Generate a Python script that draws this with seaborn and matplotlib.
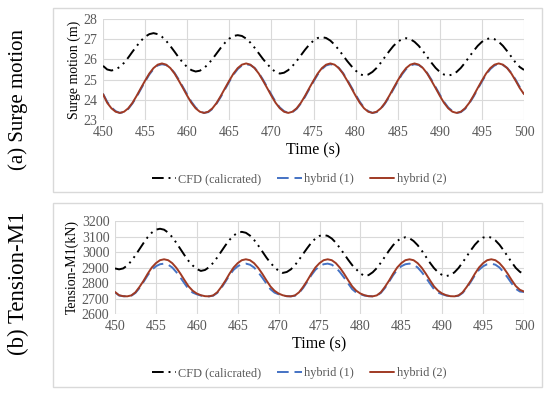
import numpy as np
import pandas as pd
import seaborn as sns
import matplotlib
matplotlib.use("Agg")
import matplotlib.pyplot as plt
from matplotlib.patches import Rectangle

time_s = np.arange(450, 500.01, 0.5)

surge_cfd = [25.68, 25.50, 25.45, 25.50, 25.63, 25.83, 26.09, 26.38, 26.66, 26.92,
             27.12, 27.25, 27.30, 27.25, 27.12, 26.92, 26.66, 26.38, 26.09, 25.83,
             25.62, 25.47, 25.40, 25.44, 25.57, 25.77, 26.02, 26.30, 26.58, 26.83,
             27.03, 27.16, 27.20, 27.16, 27.03, 26.83, 26.58, 26.30, 26.02, 25.77,
             25.55, 25.37, 25.30, 25.34, 25.47, 25.67, 25.92, 26.20, 26.48, 26.73,
             26.93, 27.06, 27.10, 27.06, 26.93, 26.73, 26.48, 26.20, 25.92, 25.67,
             25.45, 25.27, 25.20, 25.25, 25.38, 25.58, 25.84, 26.13, 26.41, 26.67,
             26.87, 27.00, 27.05, 27.00, 26.87, 26.67, 26.41, 26.13, 25.84, 25.58,
             25.38, 25.25, 25.20, 25.25, 25.38, 25.58, 25.84, 26.13, 26.41, 26.67,
             26.87, 27.00, 27.05, 27.00, 26.87, 26.67, 26.41, 26.13, 25.84, 25.62,
             25.48]
surge_h1 = [24.30, 23.90, 23.62, 23.44, 23.35, 23.39, 23.55, 23.82, 24.15, 24.53,
            24.90, 25.25, 25.52, 25.70, 25.76, 25.72, 25.58, 25.33, 25.00, 24.63,
            24.26, 23.90, 23.62, 23.44, 23.35, 23.39, 23.55, 23.82, 24.15, 24.53,
            24.90, 25.25, 25.52, 25.70, 25.76, 25.72, 25.58, 25.33, 25.00, 24.63,
            24.26, 23.90, 23.62, 23.44, 23.35, 23.39, 23.55, 23.82, 24.15, 24.53,
            24.90, 25.25, 25.52, 25.70, 25.76, 25.72, 25.58, 25.33, 25.00, 24.63,
            24.26, 23.90, 23.62, 23.44, 23.35, 23.39, 23.55, 23.82, 24.15, 24.53,
            24.90, 25.25, 25.52, 25.70, 25.76, 25.72, 25.58, 25.33, 25.00, 24.63,
            24.26, 23.90, 23.62, 23.44, 23.35, 23.39, 23.55, 23.82, 24.15, 24.53,
            24.90, 25.25, 25.52, 25.70, 25.76, 25.72, 25.58, 25.33, 25.00, 24.63,
            24.30]
surge_h2 = [24.28, 23.85, 23.58, 23.41, 23.35, 23.41, 23.58, 23.85, 24.20, 24.58,
            24.95, 25.30, 25.57, 25.74, 25.80, 25.74, 25.57, 25.30, 24.95, 24.58,
            24.20, 23.85, 23.58, 23.41, 23.35, 23.41, 23.58, 23.85, 24.20, 24.58,
            24.95, 25.30, 25.57, 25.74, 25.80, 25.74, 25.57, 25.30, 24.95, 24.58,
            24.20, 23.85, 23.58, 23.41, 23.35, 23.41, 23.58, 23.85, 24.20, 24.58,
            24.95, 25.30, 25.57, 25.74, 25.80, 25.74, 25.57, 25.30, 24.95, 24.58,
            24.20, 23.85, 23.58, 23.41, 23.35, 23.41, 23.58, 23.85, 24.20, 24.58,
            24.95, 25.30, 25.57, 25.74, 25.80, 25.74, 25.57, 25.30, 24.95, 24.58,
            24.20, 23.85, 23.58, 23.41, 23.35, 23.41, 23.58, 23.85, 24.20, 24.58,
            24.95, 25.30, 25.57, 25.74, 25.80, 25.74, 25.57, 25.30, 24.95, 24.58,
            24.28]

tension_cfd = [2894, 2888, 2894, 2913, 2942, 2979, 3019, 3059, 3096, 3125,
               3144, 3150, 3144, 3125, 3096, 3059, 3019, 2979, 2942, 2913,
               2890, 2878, 2884, 2902, 2930, 2965, 3004, 3043, 3078, 3106,
               3124, 3130, 3124, 3106, 3078, 3043, 3004, 2965, 2930, 2902,
               2878, 2865, 2871, 2888, 2915, 2950, 2988, 3025, 3060, 3087,
               3104, 3110, 3104, 3087, 3060, 3025, 2988, 2950, 2915, 2888,
               2862, 2845, 2851, 2869, 2896, 2931, 2970, 3009, 3044, 3071,
               3089, 3095, 3089, 3071, 3044, 3009, 2970, 2931, 2896, 2869,
               2851, 2845, 2851, 2869, 2897, 2933, 2972, 3011, 3047, 3075,
               3093, 3099, 3093, 3075, 3047, 3011, 2972, 2933, 2897, 2872,
               2858]
tension_h1 = [2740, 2719, 2715, 2714, 2718, 2736, 2768, 2808, 2850, 2885,
              2908, 2921, 2925, 2918, 2900, 2870, 2835, 2797, 2760, 2738,
              2727, 2719, 2715, 2714, 2718, 2736, 2768, 2808, 2850, 2885,
              2908, 2921, 2925, 2918, 2900, 2870, 2835, 2797, 2760, 2738,
              2727, 2719, 2715, 2714, 2718, 2736, 2768, 2808, 2850, 2885,
              2908, 2921, 2925, 2918, 2900, 2870, 2835, 2797, 2760, 2738,
              2727, 2719, 2715, 2714, 2718, 2736, 2768, 2808, 2850, 2885,
              2908, 2921, 2925, 2918, 2900, 2870, 2835, 2797, 2760, 2738,
              2727, 2719, 2715, 2714, 2718, 2736, 2768, 2808, 2850, 2885,
              2908, 2921, 2925, 2918, 2900, 2870, 2835, 2797, 2762, 2745,
              2742]
tension_h2 = [2742, 2721, 2715, 2714, 2720, 2740, 2775, 2815, 2860, 2900,
              2928, 2947, 2953, 2947, 2928, 2898, 2860, 2818, 2778, 2750,
              2732, 2721, 2715, 2714, 2720, 2740, 2775, 2815, 2860, 2900,
              2928, 2947, 2953, 2947, 2928, 2898, 2860, 2818, 2778, 2750,
              2732, 2721, 2715, 2714, 2720, 2740, 2775, 2815, 2860, 2900,
              2928, 2947, 2953, 2947, 2928, 2898, 2860, 2818, 2778, 2750,
              2732, 2721, 2715, 2714, 2720, 2740, 2775, 2815, 2860, 2900,
              2928, 2947, 2953, 2947, 2928, 2898, 2860, 2818, 2778, 2750,
              2732, 2721, 2715, 2714, 2720, 2740, 2775, 2815, 2860, 2900,
              2928, 2947, 2953, 2947, 2928, 2898, 2860, 2818, 2780, 2756,
              2745]

series_names = ["CFD (calicrated)", "hybrid (1)", "hybrid (2)"]
x_ticks = [450, 455, 460, 465, 470, 475, 480, 485, 490, 495, 500]
surge_ticks = [23, 24, 25, 26, 27, 28]
tension_ticks = [2600, 2700, 2800, 2900, 3000, 3100, 3200]

sns.set_theme(style="white")
plt.rcParams['font.family'] = ['Liberation Serif', 'DejaVu Serif']

fig = plt.figure(figsize=(5.5, 3.95), dpi=100)

# panel frames
for y0 in [1 - 192 / 395, 1 - 387 / 395]:
    fig.patches.append(Rectangle((53 / 550, y0), (542 - 53) / 550, 184 / 395,
                                 transform=fig.transFigure, fill=False,
                                 edgecolor="#d9d9d9", linewidth=1.0))

styles = {
    "CFD (calicrated)": dict(color="black", dashes=(6, 2.5, 1, 2.5, 1, 2.5)),
    "hybrid (1)": dict(color="#4472C4", dashes=(6, 3)),
    "hybrid (2)": dict(color="#A03A24", dashes=None),
}

def draw(ax, ys, ylim, yticks, ylabel):
    for name, y in zip(series_names, ys):
        df = pd.DataFrame({"t": time_s, "v": y})
        st = styles[name]
        sns.lineplot(data=df, x="t", y="v", ax=ax, color=st["color"],
                     linewidth=1.4, label=name, legend=False)
        l = ax.lines[-1]
        if st["dashes"] is not None:
            l.set_dashes(st["dashes"])
    ax.set_xlim(450, 500)
    ax.set_ylim(*ylim)
    ax.set_xticks(x_ticks)
    ax.set_yticks(yticks)
    ax.grid(True, color="#d9d9d9", linewidth=0.8)
    for s in ax.spines.values():
        s.set_visible(False)
    ax.tick_params(axis="both", length=0, labelsize=10, labelcolor="#595959", pad=4)
    ax.set_xlabel("Time (s)", fontsize=11.5, color="black", labelpad=3)
    ax.set_ylabel(ylabel, fontsize=10, color="black", labelpad=2)

ax1 = fig.add_axes([103 / 550, 1 - 120 / 395, (524 - 103) / 550, 101 / 395])
draw(ax1, [surge_cfd, surge_h1, surge_h2], (23, 28), surge_ticks, "Surge motion (m)")
ax2 = fig.add_axes([115 / 550, 1 - 314 / 395, (524 - 115) / 550, 93 / 395])
draw(ax2, [tension_cfd, tension_h1, tension_h2], (2600, 3200), tension_ticks, "Tension-M1(kN)")

for ax, ycen in [(ax1, 1 - 179 / 395), (ax2, 1 - 373 / 395)]:
    h, lb = ax.get_legend_handles_labels()
    fig.legend(h, lb, loc="center", bbox_to_anchor=(299 / 550, ycen), ncol=3,
               frameon=False, fontsize=8.8, labelcolor="#595959", handlelength=2.0,
               handletextpad=0.2, columnspacing=1.3)

fig.text(18 / 550, 1 - 100 / 395, "(a) Surge motion", rotation=90, ha="center",
         va="center", fontsize=15, color="black")
fig.text(18 / 550, 1 - 283 / 395, "(b) Tension-M1", rotation=90, ha="center",
         va="center", fontsize=16.5, color="black")

fig.savefig("out.png", dpi=100)
